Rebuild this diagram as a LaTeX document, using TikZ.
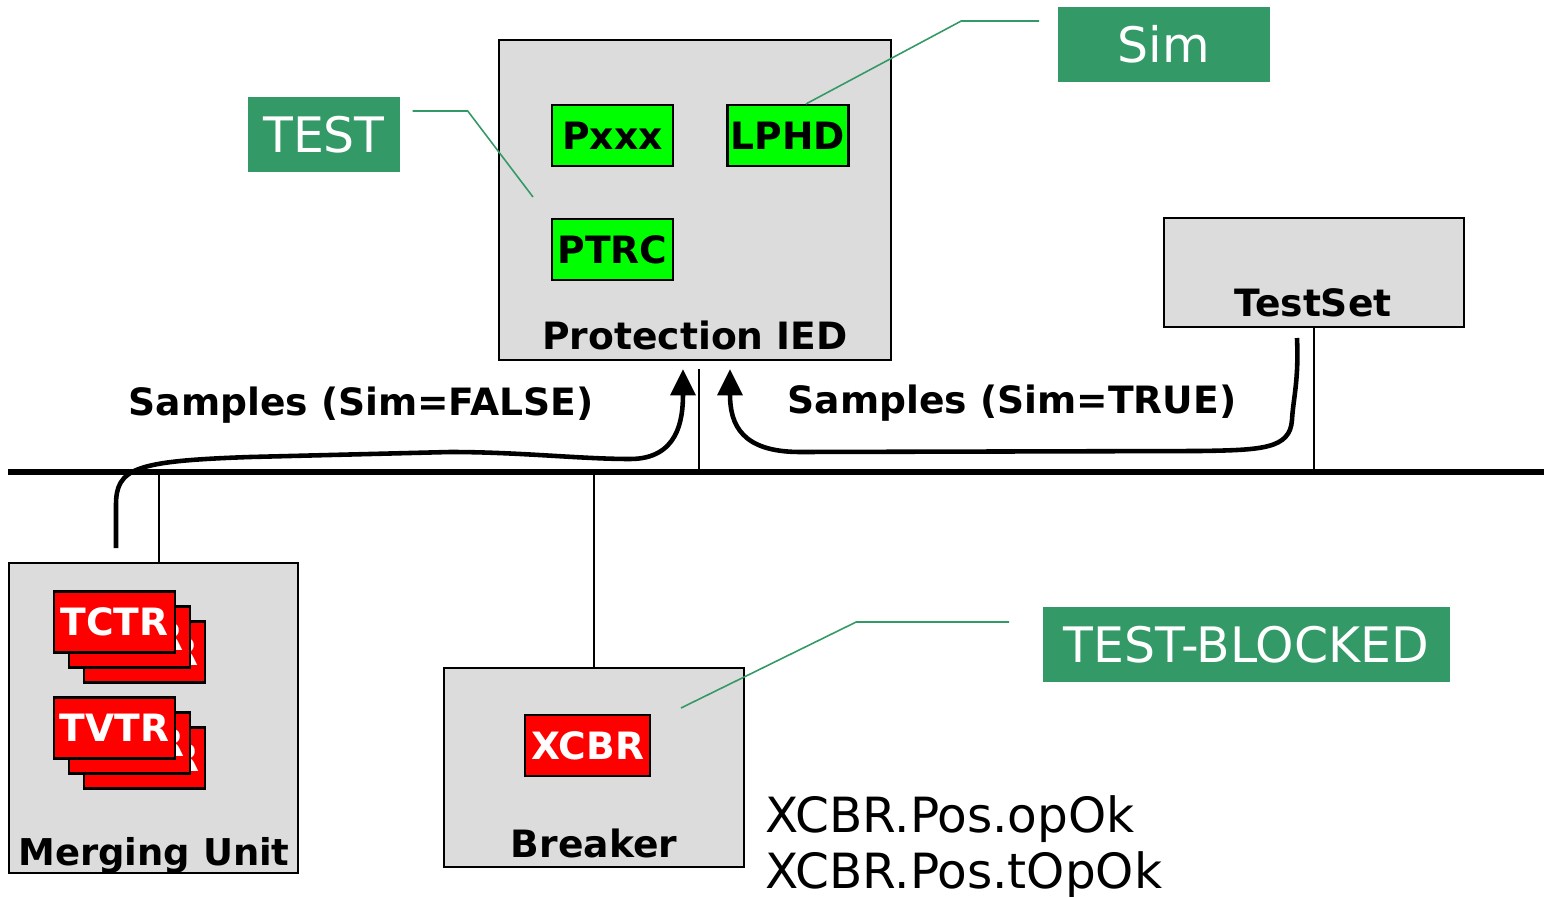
\documentclass[tikz,border=0pt]{standalone}
\usepackage{fontspec}
\setmainfont{DejaVu Sans}
\usepackage{tikz}
\usetikzlibrary{arrows.meta,positioning}
\definecolor{boxgray}{RGB}{220,220,220}
\definecolor{taggreen}{RGB}{51,153,102}
\definecolor{lngreen}{RGB}{0,255,0}
\definecolor{lnred}{RGB}{255,0,0}

\begin{document}
\begin{tikzpicture}[x=0.01cm,y=-0.01cm,
	devbox/.style={draw,fill=boxgray,line width=0.6pt,inner sep=0pt},
	lnbox/.style={draw,line width=0.6pt,fill=lngreen,inner sep=0pt,minimum width=1.21cm,minimum height=0.61cm,font=\bfseries\fontsize{10.7}{12}\selectfont},
	lnredbox/.style={lnbox,fill=lnred,text=white},
	tag/.style={fill=taggreen,text=white,inner sep=0pt,minimum height=0.75cm,font=\fontsize{13.9}{16}\selectfont},
	devlabel/.style={anchor=base,font=\bfseries\fontsize{10.7}{12}\selectfont},
	callout/.style={draw=taggreen,line width=0.45pt},
	tap/.style={line width=0.55pt},
	flow/.style={line width=1.3pt,-{Triangle[length=7.5pt,width=7pt]}}]
	%\draw[step=100,color=gray] (0,0) grid (1544,897);
	\useasboundingbox (0,0) rectangle (1544,897);
	% station bus
	\coordinate (busL) at (8,472);
	\coordinate (busR) at (1544,472);
	\draw[line width=1.6pt] (busL) -- (busR);
	% devices
	\node[devbox,minimum width=3.92cm,minimum height=3.20cm] (ied) at (695,200) {};
	\node[devlabel] (iedname) at (695,350) {Protection IED};
	\node[devbox,minimum width=3.00cm,minimum height=1.09cm] (ts) at (1314,272.5) {};
	\node[devlabel] (tsname) at (1313,316) {TestSet};
	\node[devbox,minimum width=2.89cm,minimum height=3.10cm] (mu) at (153.5,718) {};
	\node[devlabel,font=\bfseries\fontsize{10.5}{12}\selectfont] (muname) at (154,865) {Merging Unit};
	\node[devbox,minimum width=3.00cm,minimum height=1.99cm] (bk) at (594,767.5) {};
	\node[devlabel] (bkname) at (594,857) {Breaker};
	% logical nodes
	\node[lnbox] (pxxx) at (612.5,135.5) {Pxxx};
	\node[lnbox] (lphd) at (788,135.5) {LPHD};
	\node[lnbox] (ptrc) at (612.5,249.5) {PTRC};
	\foreach \dy/\ln in {0/TCTR,106/TVTR}{
		\node[lnredbox] (\ln c) at (144.5,652+\dy) {\ln};
		\node[lnredbox] (\ln b) at (129.5,637+\dy) {\ln};
		\node[lnredbox] (\ln a) at (114.5,622+\dy) {\ln};
	}
	\node[lnredbox,minimum width=1.25cm] (xcbr) at (587.5,745.5) {XCBR};
	% taps to the bus
	\coordinate (iedtap) at (699,369);
	\coordinate (mutap) at (159,472);
	\draw[tap] (iedtap) -- (iedtap |- busL);
	\draw[tap] (mutap) -- (mutap |- mu.north);
	\draw[tap] (bk.north) -- (bk.north |- busL);
	\draw[tap] (ts.south) -- (ts.south |- busL);
	% sample streams
	\coordinate (muout) at (116,548);
	\coordinate (iedinA) at (683,369);
	\coordinate (tsout) at (1297,338);
	\coordinate (iedinB) at (730,369);
	\draw[flow] (muout) -- (116,505) .. controls (116,468) and (135,461) .. (250,457)
		-- (450,452) .. controls (520,452) and (580,459) .. (630,459)
		.. controls (678,459) and (683,420) .. (iedinA);
	\draw[flow] (tsout) .. controls (1299,380) and (1293,400) .. (1292,420)
		.. controls (1290,449) and (1262,450) .. (1200,451) -- (800,452)
		.. controls (742,452) and (730,425) .. (iedinB);
	\node[devlabel] (falsetxt) at (361,415) {Samples (Sim=FALSE)};
	\node[devlabel] (truetxt) at (1012,413) {Samples (Sim=TRUE)};
	% mode tags
	\node[tag,minimum width=1.52cm] (test) at (324,134.5) {TEST};
	\node[tag,minimum width=2.12cm] (sim) at (1164,44.5) {Sim};
	\node[tag,minimum width=4.07cm] (tb) at (1246.5,644.5) {TEST-BLOCKED};
	\coordinate (iedpt) at (533,197);
	\coordinate (bkpt) at (681,708);
	\draw[callout] ([shift={(12,-23.5)}]test.east) -- ++(55,0) -- (iedpt);
	\draw[callout] ([shift={(-18,-23.5)}]sim.west) -- ++(-78,0) -- ([xshift=0.18cm]lphd.north);
	\draw[callout] ([shift={(-33,-22.5)}]tb.west) -- ++(-153,0) -- (bkpt);
	% attributes
	\node[anchor=base west,inner sep=0pt,font=\fontsize{13.8}{16}\selectfont] (opok) at (765,832) {XCBR.Pos.opOk};
	\node[anchor=base west,inner sep=0pt,font=\fontsize{13.8}{16}\selectfont] (topok) at (765,888) {XCBR.Pos.tOpOk};
\end{tikzpicture}
\end{document}
